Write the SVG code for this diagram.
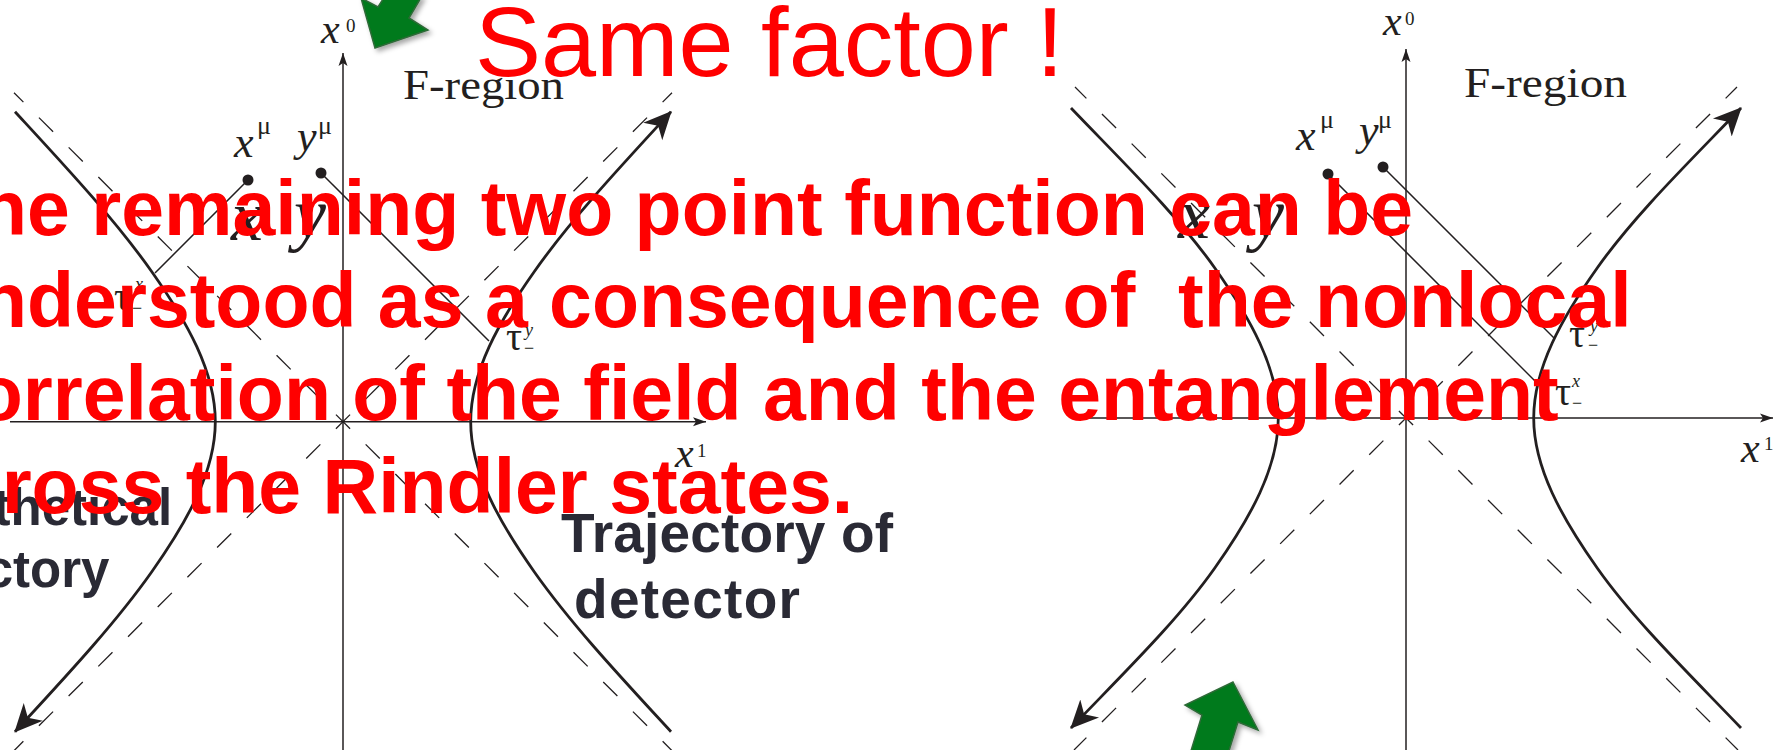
<svg xmlns="http://www.w3.org/2000/svg" width="1780" height="750" viewBox="0 0 1780 750">
<defs>
<style>
.ax{stroke:#231f20;stroke-width:1.5;fill:none}
.asym{stroke:#231f20;stroke-width:1.3;stroke-dasharray:20 22;fill:none}
.traj{stroke:#231f20;stroke-width:2.8;fill:none}
.ray{stroke:#231f20;stroke-width:1.5;fill:none}
.dot{fill:#231f20}
.math{font-family:"Liberation Serif","Times New Roman",serif;fill:#231f20}
.it{font-style:italic}
.red{font-family:"Liberation Sans",Arial,sans-serif;font-weight:bold;font-size:77px;fill:#FF0000}
.dark{font-family:"Liberation Sans",Arial,sans-serif;font-weight:bold;fill:#2A2A35}
.big{font-family:"Liberation Sans",Arial,sans-serif;font-size:99px;fill:#FF0000}
.green{fill:#007A1C;stroke:#2E6A38;stroke-width:1.5;stroke-linejoin:miter}
</style>
<marker id="axhead" markerUnits="userSpaceOnUse" markerWidth="14" markerHeight="10" viewBox="0 0 14 10" refX="13" refY="5" orient="auto">
<path d="M0,0.5 L13,5 L0,9.5 L3,5 Z" fill="#231f20"/>
</marker>
<marker id="trajhead" markerUnits="userSpaceOnUse" markerWidth="30" markerHeight="30" viewBox="0 0 30 30" refX="27" refY="15" orient="auto">
<path d="M0,2 L28,15 L0,28 L8,15 Z" fill="#231f20"/>
</marker>
<filter id="shadow" x="-30%" y="-30%" width="160%" height="160%">
<feDropShadow dx="3" dy="3" stdDeviation="2.5" flood-color="#000" flood-opacity="0.35"/>
</filter>
</defs>
<rect width="1780" height="750" fill="#ffffff"/>

<g id="left-diagram">
<g id="left-axes">
<line class="ax" x1="343" y1="750" x2="343" y2="53" marker-end="url(#axhead)"/>
<line class="ax" x1="10" y1="421.7" x2="706" y2="421.7" marker-end="url(#axhead)"/>
</g>
<g id="left-asymptotes">
<line class="asym" x1="14" y1="92.7" x2="672" y2="750.7" stroke-dashoffset="6.7"/>
<line class="asym" x1="672" y1="92.7" x2="14" y2="750.7" stroke-dashoffset="6.7"/>
</g>
<g id="left-trajectories">
<path class="traj" d="M15,111.7 C64.1,165 114.2,218.4 151.8,271.7 C187.1,321.7 215.3,371.7 215.3,421.7 C215.3,471.7 187.1,521.7 151.8,571.7 C114.2,625 64.1,678.4 15,731.7" marker-end="url(#trajhead)"/>
<path class="traj" d="M671,731.7 C621.9,678.4 571.8,625 534.2,571.7 C498.9,521.7 470.7,471.7 470.7,421.7 C470.7,371.7 498.9,321.7 534.2,271.7 C571.8,218.4 621.9,165 671,111.7" marker-end="url(#trajhead)"/>
</g>
<g id="left-points">
<line class="ray" x1="248" y1="180" x2="155" y2="273"/>
<line class="ray" x1="321" y1="173" x2="489" y2="341"/>
<circle class="dot" cx="248" cy="180" r="5.5"/>
<circle class="dot" cx="321" cy="173" r="5.5"/>
</g>
<g id="left-labels">
<text class="math it" x="321" y="43" font-size="42">x</text>
<text class="math" x="346" y="32" font-size="19">0</text>
<text class="math it" x="675" y="467" font-size="42">x</text>
<text class="math" x="697" y="457" font-size="19">1</text>
<text class="math" x="403" y="99" font-size="42" textLength="161" lengthAdjust="spacingAndGlyphs">F-region</text>
<text class="math it" x="234" y="157" font-size="44">x</text>
<text class="math" x="257" y="134" font-size="26">μ</text>
<text class="math it" x="297" y="151" font-size="44">y</text>
<text class="math" x="318" y="134" font-size="26">μ</text>
<text class="math it" x="231" y="240" font-size="72">x</text>
<text class="math it" x="294" y="238" font-size="72">y</text>
<text class="math" x="114" y="310" font-size="40">τ</text>
<text class="math it" x="135" y="290" font-size="18">x</text>
<text class="math" x="132" y="314" font-size="18">−</text>
<text class="math" x="506" y="350" font-size="40">τ</text>
<text class="math it" x="525" y="336" font-size="18">y</text>
<text class="math" x="524" y="354" font-size="18">−</text>
</g>
</g>

<g id="right-diagram">
<g id="right-axes">
<line class="ax" x1="1406" y1="750" x2="1406" y2="49" marker-end="url(#axhead)"/>
<line class="ax" x1="1073" y1="418" x2="1773" y2="418" marker-end="url(#axhead)"/>
</g>
<g id="right-asymptotes">
<line class="asym" x1="1075" y1="87" x2="1738" y2="750" stroke-dashoffset="3.9"/>
<line class="asym" x1="1737" y1="87" x2="1074" y2="750" stroke-dashoffset="3.9"/>
</g>
<g id="right-trajectories">
<path class="traj" d="M1071,108 C1122,161.3 1177.2,214.7 1214.8,268 C1250.1,318 1278.3,368 1278.3,418 C1278.3,468 1250.1,518 1214.8,568 C1177.2,621.3 1122,674.7 1071,728" marker-end="url(#trajhead)"/>
<path class="traj" d="M1741,728 C1690,674.7 1634.8,621.3 1597.2,568 C1561.9,518 1533.7,468 1533.7,418 C1533.7,368 1561.9,318 1597.2,268 C1634.8,214.7 1690,161.3 1741,108" marker-end="url(#trajhead)"/>
</g>
<g id="right-points">
<line class="ray" x1="1328" y1="174" x2="1538" y2="384"/>
<line class="ray" x1="1383" y1="167" x2="1554.5" y2="338.5"/>
<circle class="dot" cx="1328" cy="174" r="5.5"/>
<circle class="dot" cx="1383" cy="167" r="5.5"/>
</g>
<g id="right-labels">
<text class="math it" x="1383" y="35" font-size="42">x</text>
<text class="math" x="1405" y="25" font-size="19">0</text>
<text class="math it" x="1741" y="462" font-size="42">x</text>
<text class="math" x="1764" y="450" font-size="19">1</text>
<text class="math" x="1464" y="97" font-size="42" textLength="163" lengthAdjust="spacingAndGlyphs">F-region</text>
<text class="math it" x="1296" y="150" font-size="44">x</text>
<text class="math" x="1320" y="128" font-size="26">μ</text>
<text class="math it" x="1359" y="145" font-size="44">y</text>
<text class="math" x="1378" y="128" font-size="26">μ</text>
<text class="math it" x="1178" y="238" font-size="72">x</text>
<text class="math it" x="1252" y="238" font-size="72">y</text>
<text class="math" x="1569" y="347" font-size="40">τ</text>
<text class="math it" x="1590" y="332" font-size="18">y</text>
<text class="math" x="1588" y="351" font-size="18">−</text>
<text class="math" x="1555" y="405" font-size="40">τ</text>
<text class="math it" x="1572" y="387" font-size="18">x</text>
<text class="math" x="1572" y="409" font-size="18">−</text>
</g>
</g>

<g id="trajectory-labels">
<text class="dark" x="-134" y="525" font-size="51">Hypothetical</text>
<text class="dark" x="-123" y="587" font-size="51">trajectory</text>
<text class="dark" x="561" y="552" font-size="55" textLength="332">Trajectory of</text>
<text class="dark" x="574" y="618" font-size="55" textLength="226">detector</text>
</g>

<g id="green-arrows" filter="url(#shadow)">
<polygon class="green" points="361,-2 375,48 428,30 409,18 422,-4 385,-4 378,7"/>
<polygon class="green" points="1233,682 1258,730 1238,722 1228,754 1190,754 1202,715 1185,705"/>
</g>

<g id="annotation">
<text class="big" x="475" y="76">Same factor !</text>
<text class="red" x="-67" y="235">The remaining two point function can be</text>
<text class="red" x="-67" y="327" xml:space="preserve">understood as a consequence of  the nonlocal</text>
<text class="red" x="-67" y="420">correlation of the field and the entanglement</text>
<text class="red" x="-84" y="513">across the Rindler states.</text>
</g>
</svg>
